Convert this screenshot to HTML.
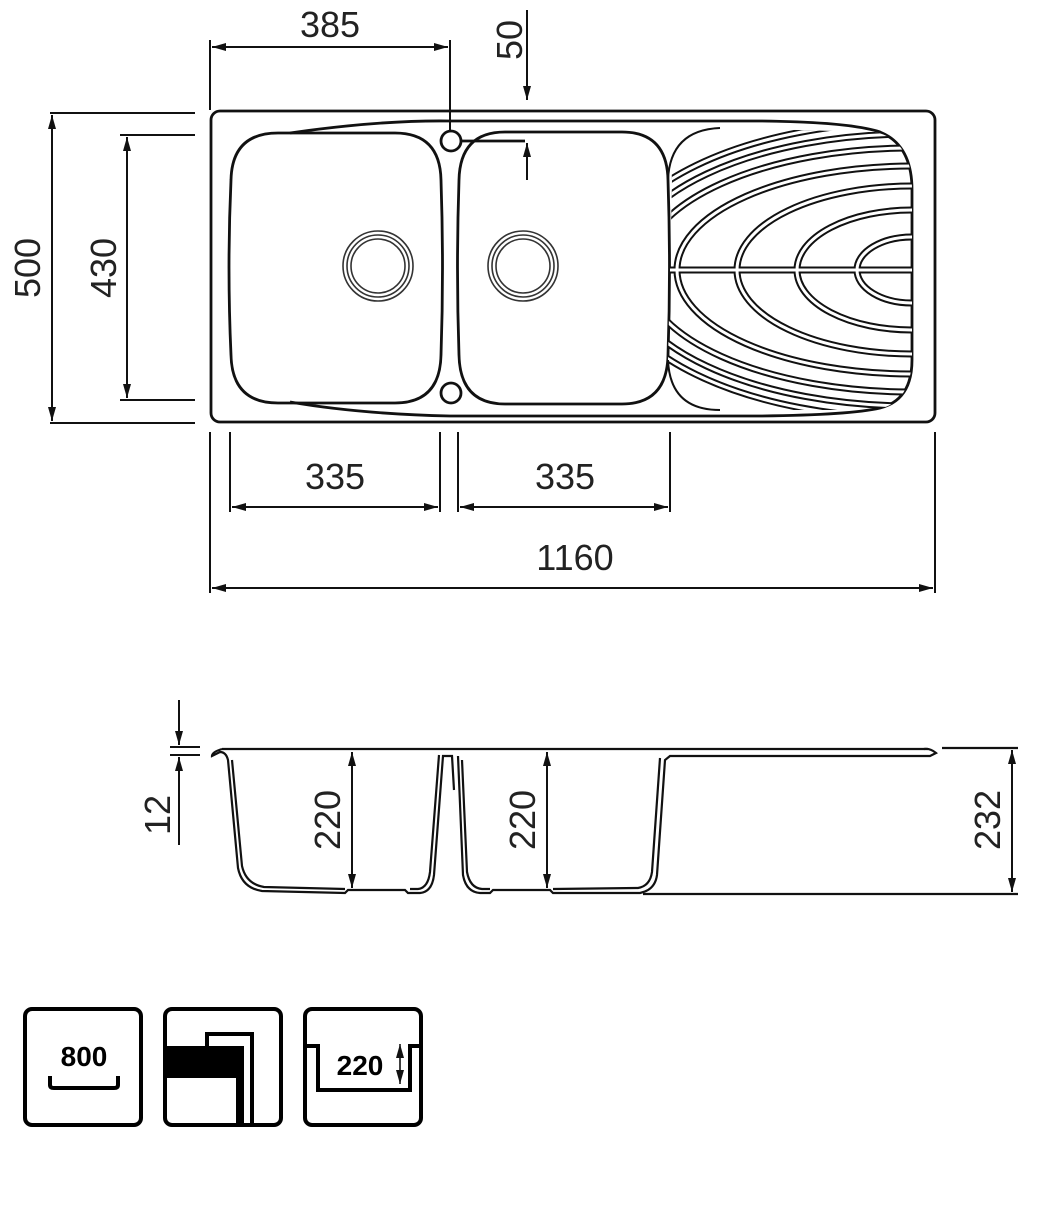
<!DOCTYPE html>
<html><head><meta charset="utf-8"><style>
html,body{margin:0;padding:0;background:#fff}
svg{display:block}
text{font-family:"Liberation Sans",sans-serif;fill:#222}
</style></head><body>
<svg width="1054" height="1210" viewBox="0 0 1054 1210" xmlns="http://www.w3.org/2000/svg">
<defs>
<marker id="a" viewBox="0 0 10 10" refX="10" refY="5" markerWidth="14" markerHeight="10" orient="auto-start-reverse" markerUnits="userSpaceOnUse" preserveAspectRatio="none"><path d="M0,1 L10,5 L0,9 z" fill="#111"/></marker>
<clipPath id="dr"><path d="M672,180 Q668,130 720,128 L875,132 Q912,140 912,190 L912,360 Q910,408 870,410 L720,410 Q668,410 668,360 Z"/></clipPath>
</defs>
<g fill="none" stroke="#111" stroke-width="2.8">
<rect x="211" y="111" width="724" height="311" rx="9"/>
<path d="M290,133 Q380,120 450,121 L760,121 Q850,122 880,132 Q912,145 912,190 L912,360 Q912,400 880,408 Q850,415 760,416 L450,416 Q360,414 290,402"/>
<path d="M278,133 L395,133 Q440,133 441,180 Q444,268 441,355 Q440,403 395,403 L278,403 Q232,403 231,355 Q227,268 231,180 Q232,133 278,133Z"/>
<path d="M505,132 L622,132 Q667,132 668,180 Q671,268 668,355 Q667,404 622,404 L505,404 Q460,404 459,355 Q456,268 459,180 Q460,132 505,132Z"/>
<line x1="462" y1="141" x2="525" y2="141"/>
<circle cx="451" cy="141" r="10"/><circle cx="451" cy="393" r="10"/>
</g>
<g fill="none" stroke="#333" stroke-width="1.6">
<circle cx="378" cy="266" r="35"/><circle cx="378" cy="266" r="31"/><circle cx="378" cy="266" r="27"/>
<circle cx="523" cy="266" r="35"/><circle cx="523" cy="266" r="31"/><circle cx="523" cy="266" r="27"/>
</g>
<g clip-path="url(#dr)" fill="none">
<g stroke="#111" stroke-width="7">
<ellipse cx="912" cy="270" rx="55" ry="33"/><ellipse cx="912" cy="270" rx="115" ry="60"/><ellipse cx="912" cy="270" rx="175" ry="84"/><ellipse cx="912" cy="270" rx="235" ry="104"/><ellipse cx="912" cy="270" rx="270" ry="122"/><ellipse cx="912" cy="270" rx="290" ry="136"/><ellipse cx="912" cy="270" rx="305" ry="148"/>
<line x1="670" y1="270" x2="912" y2="270"/>
</g>
<g stroke="#fff" stroke-width="3">
<ellipse cx="912" cy="270" rx="55" ry="33"/><ellipse cx="912" cy="270" rx="115" ry="60"/><ellipse cx="912" cy="270" rx="175" ry="84"/><ellipse cx="912" cy="270" rx="235" ry="104"/><ellipse cx="912" cy="270" rx="270" ry="122"/><ellipse cx="912" cy="270" rx="290" ry="136"/><ellipse cx="912" cy="270" rx="305" ry="148"/>
<line x1="670" y1="270" x2="912" y2="270"/>
</g>
</g>
<path d="M668,180 Q670,130 720,128" fill="none" stroke="#111" stroke-width="2"/>
<path d="M668,360 Q670,410 720,410" fill="none" stroke="#111" stroke-width="2"/>

<g stroke="#111" stroke-width="2" fill="none">
<line x1="210" y1="40" x2="210" y2="110"/><line x1="450" y1="40" x2="450" y2="131"/>
<line x1="212" y1="47" x2="448" y2="47" marker-start="url(#a)" marker-end="url(#a)"/>
<line x1="527" y1="10" x2="527" y2="100" marker-end="url(#a)"/>
<line x1="527" y1="180" x2="527" y2="143" marker-end="url(#a)"/>
<line x1="50" y1="113" x2="195" y2="113"/><line x1="50" y1="423" x2="195" y2="423"/>
<line x1="52" y1="115" x2="52" y2="421" marker-start="url(#a)" marker-end="url(#a)"/>
<line x1="120" y1="135" x2="195" y2="135"/><line x1="120" y1="400" x2="195" y2="400"/>
<line x1="127" y1="137" x2="127" y2="398" marker-start="url(#a)" marker-end="url(#a)"/>
<line x1="230" y1="432" x2="230" y2="512"/><line x1="440" y1="432" x2="440" y2="512"/>
<line x1="232" y1="507" x2="438" y2="507" marker-start="url(#a)" marker-end="url(#a)"/>
<line x1="458" y1="432" x2="458" y2="512"/><line x1="670" y1="432" x2="670" y2="512"/>
<line x1="460" y1="507" x2="668" y2="507" marker-start="url(#a)" marker-end="url(#a)"/>
<line x1="210" y1="432" x2="210" y2="593"/><line x1="935" y1="432" x2="935" y2="593"/>
<line x1="212" y1="588" x2="933" y2="588" marker-start="url(#a)" marker-end="url(#a)"/>
</g>
<g font-size="36">
<text x="330" y="37" text-anchor="middle">385</text>
<text x="335" y="489" text-anchor="middle">335</text>
<text x="565" y="489" text-anchor="middle">335</text>
<text x="575" y="570" text-anchor="middle">1160</text>
<text transform="translate(40,268) rotate(-90)" text-anchor="middle">500</text>
<text transform="translate(116,268) rotate(-90)" text-anchor="middle">430</text>
<text transform="translate(522,40) rotate(-90)" text-anchor="middle">50</text>
<text transform="translate(170,815) rotate(-90)" text-anchor="middle">12</text>
<text transform="translate(340,820) rotate(-90)" text-anchor="middle">220</text>
<text transform="translate(535,820) rotate(-90)" text-anchor="middle">220</text>
<text transform="translate(1000,820) rotate(-90)" text-anchor="middle">232</text>
</g>

<g fill="none" stroke="#111" stroke-width="2.2">
<line x1="222" y1="749" x2="928" y2="749"/>
<path d="M222,749 Q212,752 212,756 L220,752 Q226,752 228,760 L238,868 Q242,888 262,891 L345,893 L348,890 L405,890 L408,893 L420,893 Q432,892 434,875 L443,756 L452,756 L454,790"/>
<path d="M232,760 L242,866 Q246,884 264,887 L345,889 M410,889 L418,889 Q428,888 430,872 L439,755"/>
<path d="M458,756 L463,875 Q466,892 480,893 L490,893 L493,890 L550,890 L553,893 L640,893 Q655,890 657,875 L665,760 L670,756 L930,756 L936,753 Q930,748 924,749"/>
<path d="M462,760 L467,872 Q470,888 482,889 L490,889 M553,889 L638,888 Q650,886 652,872 L660,758"/>
<line x1="643" y1="894" x2="1018" y2="894"/>
<line x1="942" y1="748" x2="1018" y2="748"/>
</g>
<g stroke="#111" stroke-width="2" fill="none">
<line x1="170" y1="747" x2="200" y2="747"/><line x1="170" y1="755" x2="200" y2="755"/>
<line x1="179" y1="700" x2="179" y2="745" marker-end="url(#a)"/>
<line x1="179" y1="845" x2="179" y2="757" marker-end="url(#a)"/>
<line x1="352" y1="752" x2="352" y2="888" marker-start="url(#a)" marker-end="url(#a)"/>
<line x1="547" y1="752" x2="547" y2="888" marker-start="url(#a)" marker-end="url(#a)"/>
<line x1="1012" y1="750" x2="1012" y2="892" marker-start="url(#a)" marker-end="url(#a)"/>
</g>

<g fill="none" stroke="#000" stroke-width="4">
<rect x="25" y="1009" width="116" height="116" rx="7"/>
<rect x="165" y="1009" width="116" height="116" rx="7"/>
<rect x="305" y="1009" width="116" height="116" rx="7"/>
<path d="M50,1076 L50,1085 Q50,1088 54,1088 L114,1088 Q118,1088 118,1085 L118,1076"/>
</g>
<text x="84" y="1066" text-anchor="middle" font-size="28" font-weight="bold" style="fill:#000">800</text>
<rect x="167" y="1046" width="75" height="30" fill="#000"/>
<path d="M207,1046 L207,1034 L252,1034 L252,1125 M242,1046 L242,1125 M167,1076 L238,1076 L238,1125" fill="none" stroke="#000" stroke-width="4"/>
<path d="M307,1046 L318,1046 L318,1090 L410,1090 L410,1046 L421,1046" fill="none" stroke="#000" stroke-width="4"/>
<text x="360" y="1075" text-anchor="middle" font-size="28" font-weight="bold" style="fill:#000">220</text>
<line x1="400" y1="1044" x2="400" y2="1084" stroke="#000" stroke-width="1.5" marker-start="url(#a)" marker-end="url(#a)"/>
</svg>
</body></html>
